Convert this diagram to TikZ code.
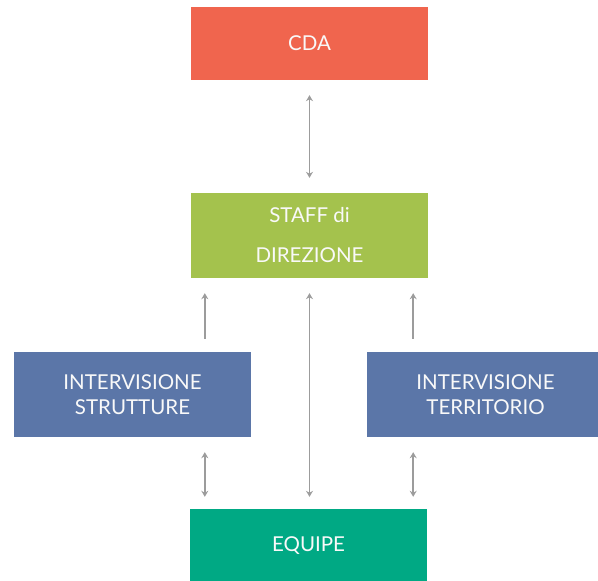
\documentclass[tikz,border=0pt]{standalone}
\usepackage{fontspec}
\setmainfont{Lato}
\usepackage{tikz}
\usetikzlibrary{calc,arrows.meta}
\definecolor{cdared}{HTML}{F0654E}
\definecolor{staffgreen}{HTML}{A4C24D}
\definecolor{interblue}{HTML}{5B76A8}
\definecolor{equipegreen}{HTML}{00A984}
\definecolor{arrowgray}{HTML}{9C9C9C}
\begin{document}
\begin{tikzpicture}[x=1pt,y=-1pt]
					\tikzset{>={Stealth[length=6pt,width=7pt]}}
					\tikzset{box/.style={rectangle,inner sep=0pt,minimum width=237pt,text=white!95!gray,align=center,font=\fontsize{20.5}{25}\selectfont}}
					\tikzset{link/.style={draw=arrowgray,line width=1.6pt}}
					\useasboundingbox (0,0) rectangle (598,581);
					\clip (0,0) rectangle (598,581);
					\node[box,fill=cdared,minimum height=73pt] (cda) at (309.5,43.5) {CDA};
					\node[box,fill=staffgreen,minimum height=85pt,font=\fontsize{20.5}{40}\selectfont] (staff) at (309.5,235.5) {STAFF di\\DIREZIONE};
					\node[box,fill=interblue,minimum height=85pt] (ints) at (132.5,394.5) {INTERVISIONE\\STRUTTURE};
					\node[box,fill=interblue,minimum height=85pt] (intt) at (485.5,394.5) {INTERVISIONE\\TERRITORIO};
					\node[box,fill=equipegreen,minimum height=73pt] (equipe) at (308.5,545.5) {EQUIPE};
					\coordinate (sl) at ($(staff.south west)+(14,0)$);
					\coordinate (sr) at ($(staff.south east)+(-15,0)$);
					\draw[link,<->] ($(cda.south)+(0,15)$) -- ($(staff.north)+(0,-15)$);
					\draw[link,->] (sl |- ints.north) ++(0,-13) -- ($(sl)+(0,15)$);
					\draw[link,->] (sr |- intt.north) ++(0,-13) -- ($(sr)+(0,15)$);
					\draw[link,<->] ($(staff.south)+(0,15)$) -- ($(staff.south |- equipe.north)+(0,-12)$);
					\draw[link,<->] ($(sl |- ints.south)+(0,15)$) -- ($(sl |- equipe.north)+(0,-12)$);
					\draw[link,<->] ($(sr |- intt.south)+(0,15)$) -- ($(sr |- equipe.north)+(0,-12)$);
				\end{tikzpicture}
\end{document}
